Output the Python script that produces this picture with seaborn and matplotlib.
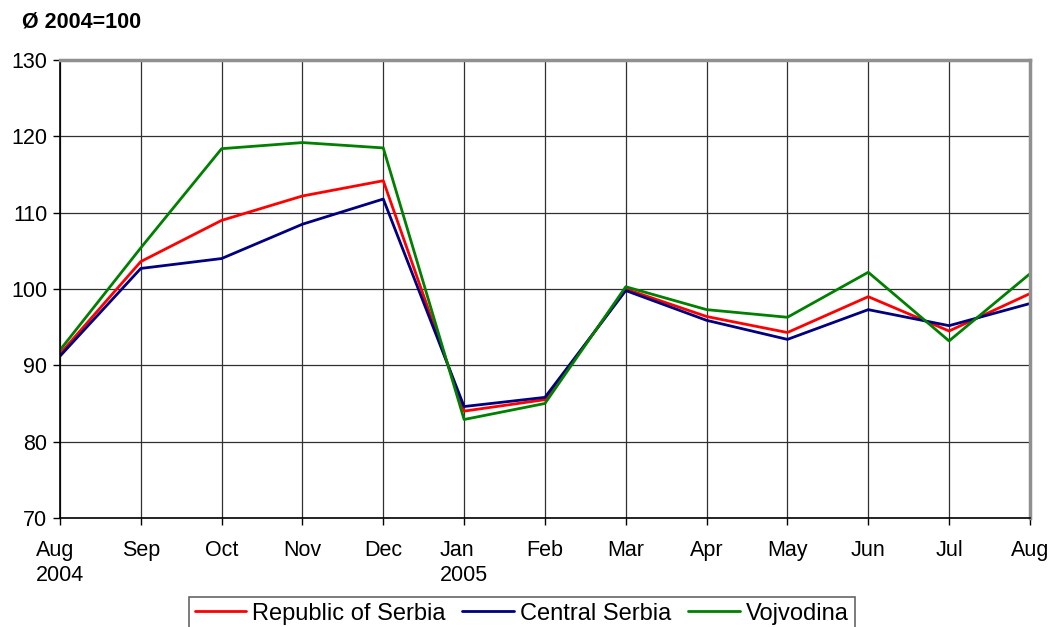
import numpy as np
import pandas as pd
import seaborn as sns
import matplotlib.pyplot as plt

months = ["Aug\n2004", "Sep", "Oct", "Nov", "Dec", "Jan\n2005", "Feb",
          "Mar", "Apr", "May", "Jun", "Jul", "Aug"]
serbia = [91.5, 103.6, 109.0, 112.2, 114.2, 84.0, 85.5, 100.0, 96.4, 94.3, 99.0, 94.5, 99.4]
central = [91.2, 102.7, 104.0, 108.5, 111.8, 84.6, 85.8, 99.8, 95.9, 93.4, 97.3, 95.2, 98.1]
vojvodina = [92.0, 105.4, 118.4, 119.2, 118.5, 82.9, 85.0, 100.3, 97.3, 96.3, 102.2, 93.2, 102.0]
series_names = ["Republic of Serbia", "Central Serbia", "Vojvodina"]
colors = ["#ff0000", "#000080", "#008000"]

df = pd.DataFrame({
    "month": list(range(len(months))) * 3,
    "value": serbia + central + vojvodina,
    "series": [n for n in series_names for _ in months],
})

sns.set_style("white")
plt.rcParams['font.family'] = ['Liberation Sans', 'DejaVu Sans']
plt.rcParams['text.color'] = 'black'
plt.rcParams['xtick.color'] = 'black'
plt.rcParams['ytick.color'] = 'black'
plt.rcParams['xtick.labelcolor'] = 'black'
plt.rcParams['ytick.labelcolor'] = 'black'

fig = plt.figure(figsize=(10.52, 6.27), dpi=100)
ax = fig.add_axes([0.057, 0.174, 0.922, 0.730])

sns.lineplot(data=df, x="month", y="value", hue="series", palette=colors,
             hue_order=series_names, linewidth=2, ax=ax)

ax.set_xlim(0, len(months) - 1)
ax.set_ylim(70, 130)
ax.set_xticks(range(len(months)))
ax.set_xticklabels(months, fontsize=15.5, linespacing=1.25)
ax.set_yticks(range(70, 131, 10))
ax.tick_params(axis='y', labelsize=15.5, length=5, width=1, direction='out', left=True, color='black', pad=4)
ax.tick_params(axis='x', length=5, width=1, direction='out', bottom=True, color='black', pad=11)
for lbl in ax.get_xticklabels():
    lbl.set_multialignment('left')
ax.set_xlabel("")
ax.set_ylabel("")
ax.grid(True, color='#303030', linewidth=0.9)

for side in ["left", "bottom"]:
    ax.spines[side].set_color("black")
    ax.spines[side].set_linewidth(1.2)
for side in ["top", "right"]:
    ax.spines[side].set_color("#909090")
    ax.spines[side].set_linewidth(2.5)

fig.text(0.021, 0.965, "Ø 2004=100", fontsize=15.5, fontweight='bold', va='center', ha='left')

leg = ax.legend(loc='upper center', bbox_to_anchor=(0.476, -0.172), ncol=3,
                fontsize=17, frameon=True, fancybox=False, handlelength=2.2,
                handletextpad=0.25, columnspacing=0.7, borderpad=0.25, borderaxespad=0)
leg.get_frame().set_edgecolor('#404040')
leg.get_frame().set_linewidth(1.2)
for line in leg.get_lines():
    line.set_linewidth(2)

fig.savefig("out.png", dpi=100)
